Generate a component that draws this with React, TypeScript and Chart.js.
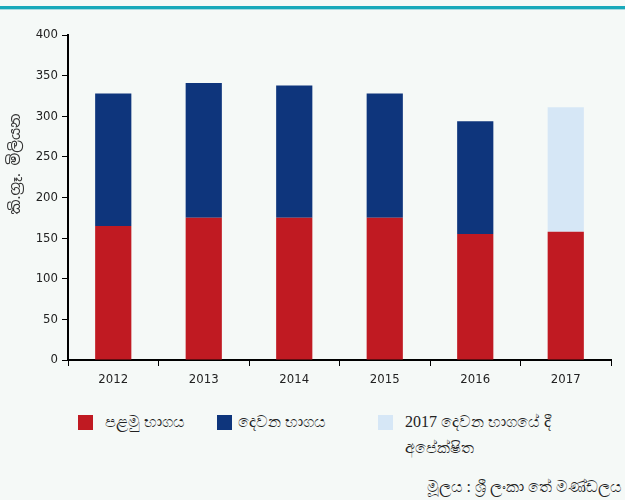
import React, { useEffect, useRef } from "react";
import { Chart, registerables } from "chart.js";

Chart.register(...registerables);

const years = ["2012", "2013", "2014", "2015", "2016", "2017"];
const firstHalf = [165, 175, 175, 175, 155, 158];
const secondHalf = [163, 166, 163, 153, 139, null];
const expected2017 = [null, null, null, null, null, 153];
const yTicks = [0, 50, 100, 150, 200, 250, 300, 350, 400];

const legendFirst = "පළමු භාගය";
const legendSecond = "දෙවන භාගය";
const legendExpected1 = "2017 දෙවන භාගයේ දී";
const legendExpected2 = "අපේක්ෂිත";
const yTitle = "කි.ග්‍රෑ. මිලියන";
const sourceText = "මූලය : ශ්‍රී ලංකා තේ මණ්ඩලය";

const RED = "#c01a22";
const BLUE = "#0e357c";
const LIGHT = "#d6e7f6";
const BG = "#f5f9f7";
const TICK_FONT = "'Liberation Sans Narrow', 'Arial Narrow', 'DejaVu Sans Condensed', 'Liberation Sans', sans-serif";
const SERIF = "'Liberation Serif', 'DejaVu Serif', serif";

const yTitlePlugin = {
  id: "yTitleCustom",
  afterDraw(chart: any) {
    const ctx = chart.ctx;
    ctx.save();
    ctx.translate(16, 164);
    ctx.rotate(-Math.PI / 2);
    ctx.fillStyle = "#333";
    ctx.font = "15px 'Noto Sans Sinhala', " + SERIF;
    ctx.textAlign = "center";
    ctx.textBaseline = "middle";
    ctx.fillText(yTitle, 0, 0);
    ctx.restore();
  },
};

export default function App() {
  const canvasRef = useRef<HTMLCanvasElement | null>(null);

  useEffect(() => {
    if (!canvasRef.current) return;
    const chart = new Chart(canvasRef.current, {
      type: "bar",
      data: {
        labels: years,
        datasets: [
          { label: legendFirst, data: firstHalf, backgroundColor: RED, stack: "s" },
          { label: legendSecond, data: secondHalf as any, backgroundColor: BLUE, stack: "s" },
          { label: legendExpected1 + " " + legendExpected2, data: expected2017 as any, backgroundColor: LIGHT, stack: "s" },
        ],
      },
      options: {
        animation: false,
        responsive: false,
        devicePixelRatio: 1,
        layout: { padding: { top: 35, right: 14, left: 0, bottom: 0 } },
        datasets: { bar: { categoryPercentage: 1, barPercentage: 0.4 } },
        plugins: { legend: { display: false }, tooltip: { enabled: false }, title: { display: false } },
        scales: {
          x: {
            stacked: true,
            afterFit: (s: any) => { s.height = 40; },
            grid: { drawOnChartArea: false, drawTicks: true, tickLength: 6, color: "#000", lineWidth: 1 },
            border: { display: true, color: "#000", width: 2 },
            ticks: { color: "#222", padding: 6, font: { family: TICK_FONT, size: 13 } },
          },
          y: {
            stacked: true,
            min: 0,
            max: 400,
            afterFit: (s: any) => { s.width = 68; },
            afterBuildTicks: (s: any) => { s.ticks = yTicks.map((v) => ({ value: v })); },
            grid: { drawOnChartArea: false, drawTicks: true, tickLength: 6, color: "#000", lineWidth: 1 },
            border: { display: true, color: "#000", width: 2 },
            ticks: { color: "#222", padding: 4, font: { family: TICK_FONT, size: 13 } },
          },
        },
      },
      plugins: [yTitlePlugin],
    });
    return () => chart.destroy();
  }, []);

  const sq = (c: string, left: number) => (
    <div style={{ position: "absolute", left, top: 415, width: 15, height: 15, background: c }} />
  );
  const txt: React.CSSProperties = { position: "absolute", fontFamily: SERIF, fontSize: 16, color: "#222", whiteSpace: "nowrap", lineHeight: "20px" };

  return (
    <div style={{ position: "fixed", left: 0, top: 0, width: 625, height: 500, background: BG, overflow: "hidden" }}>
      <div style={{ position: "absolute", left: 0, top: 6, width: 625, height: 3, background: "#17a9ba" }} />
      <div style={{ position: "absolute", left: 0, top: 9, width: 625, height: 1, background: "#a8dbe1" }} />
      <canvas ref={canvasRef} width={625} height={400} style={{ position: "absolute", left: 0, top: 0, width: 625, height: 400 }} />
      {sq(RED, 78)}
      <div style={{ ...txt, left: 105, top: 412 }}>{legendFirst}</div>
      {sq(BLUE, 217)}
      <div style={{ ...txt, left: 238, top: 412 }}>{legendSecond}</div>
      {sq(LIGHT, 378)}
      <div style={{ ...txt, left: 405, top: 412 }}>{legendExpected1}</div>
      <div style={{ ...txt, left: 405, top: 438 }}>{legendExpected2}</div>
      <div style={{ ...txt, right: 3, top: 477, fontSize: 16 }}>{sourceText}</div>
    </div>
  );
}
